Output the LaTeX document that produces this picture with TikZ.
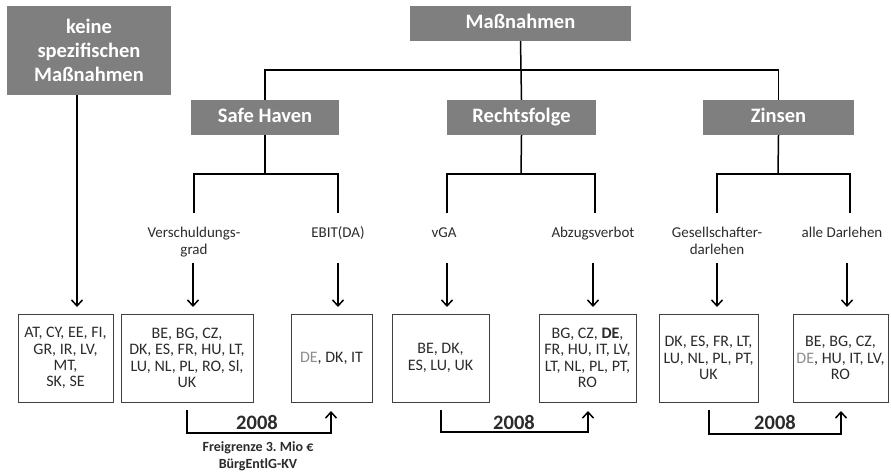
\documentclass[tikz,border=0pt]{standalone}
\usepackage{fontspec}
\setmainfont{Carlito}
\usetikzlibrary{arrows.meta}
\definecolor{hdr}{HTML}{7F7F7F}
\definecolor{txt}{HTML}{2B2B2B}
\definecolor{bord}{HTML}{404040}
\definecolor{lightde}{HTML}{8C8C8C}
\begin{document}
\begin{tikzpicture}[x=1pt,y=-1pt,
  hbox/.style={fill=hdr, text=white, font=\fontsize{20.5}{24}\selectfont\bfseries, inner sep=0pt, align=center},
  hone/.style={hbox, text height=14pt, text depth=4pt},
  cbox/.style={draw=bord, line width=0.8pt, text=txt, font=\fontsize{16}{16.3}\selectfont, inner sep=0pt, align=center, minimum height=88pt},
  lbl/.style={text=txt, font=\fontsize{15}{17}\selectfont, inner sep=0pt, align=center},
  conn/.style={line width=1.5pt, black},
  arr/.style={line width=1.5pt, black, -{Straight Barb[length=6pt,width=11pt,line width=1.5pt]}},
  yr/.style={text=txt, font=\fontsize{20.5}{24}\selectfont\bfseries, inner sep=0pt},
  note/.style={text=txt, font=\fontsize{14}{17}\selectfont\bfseries, inner sep=0pt, align=center}]
\useasboundingbox (0,0) rectangle (891,472);

% header boxes
\node[hbox, minimum width=164pt, minimum height=89pt] (kein) at (89,50.5) {keine\\spezifischen\\Maßnahmen};
\node[hone, minimum width=221pt, minimum height=35pt] (mass) at (520.5,23.5) {Maßnahmen};
\node[hone, minimum width=148pt, minimum height=35pt] (sh) at (265,117.5) {Safe Haven};
\node[hone, minimum width=149pt, minimum height=35pt] (rf) at (521.5,117.5) {Rechtsfolge};
\node[hone, minimum width=151pt, minimum height=35pt] (zi) at (778.5,117.5) {Zinsen};

% top tree
\coordinate (j0) at (521,70);
\draw[conn] (mass.south) -- (j0);
\draw[conn] (sh.north) |- (j0) -| (zi.north);
\draw[conn] (j0) -- (rf.north);

% sub-branch junctions
\coordinate (jsh) at (265,174);
\coordinate (jrf) at (521,174);
\coordinate (jzi) at (778,174);
\coordinate (e1) at (194,213);
\coordinate (e2) at (338,213);
\coordinate (e3) at (447,213);
\coordinate (e4) at (595,213);
\coordinate (e5) at (717,213);
\coordinate (e6) at (850,213);
\draw[conn] (sh.south) -- (jsh);
\draw[conn] (e1) |- (jsh) -| (e2);
\draw[conn] (rf.south) -- (jrf);
\draw[conn] (e3) |- (jrf) -| (e4);
\draw[conn] (zi.south) -- (jzi);
\draw[conn] (e5) |- (jzi) -| (e6);

% labels
\node[lbl, anchor=base] (l1) at (194,254) {Verschuldungs-\\grad};
\node[lbl, anchor=base] (l2) at (338,237) {EBIT(DA)};
\node[lbl, anchor=base] (l3) at (444,237) {vGA};
\node[lbl, anchor=base] (l4) at (593,237) {Abzugsverbot};
\node[lbl, anchor=base] (l5) at (717,254) {Gesellschafter-\\darlehen};
\node[lbl, anchor=base] (l6) at (842,237) {alle Darlehen};

% country boxes
\node[cbox, minimum width=95pt] (b1) at (65.5,358) {AT, CY, EE, FI,\\GR, IR, LV,\\MT,\\SK, SE};
\node[cbox, minimum width=132pt] (b2) at (187,358) {BE, BG, CZ,\\DK, ES, FR, HU, LT,\\LU, NL, PL, RO, Sl,\\UK};
\node[cbox, minimum width=81pt] (b3) at (331.5,358) {\textcolor{lightde}{DE}, DK, IT};
\node[cbox, minimum width=97pt] (b4) at (440.5,358) {BE, DK,\\ES, LU, UK};
\node[cbox, minimum width=97pt] (b5) at (587.5,358) {BG, CZ, \textbf{DE},\\FR, HU, IT, LV,\\LT, NL, PL, PT,\\RO};
\node[cbox, minimum width=99pt] (b6) at (708.5,358) {DK, ES, FR, LT,\\LU, NL, PL, PT,\\UK};
\node[cbox, minimum width=95pt] (b7) at (840.5,358) {BE, BG, CZ,\\\textcolor{lightde}{DE}, HU, IT, LV,\\RO};

% arrows into boxes
\coordinate (k1) at (77,95);
\coordinate (k2) at (77,307);
\draw[arr] (k1) -- (k2);
\coordinate (s2) at (193,263); \coordinate (t2) at (193,307);
\coordinate (s3) at (338,263); \coordinate (t3) at (338,307);
\coordinate (s4) at (447,263); \coordinate (t4) at (447,307);
\coordinate (s5) at (593,263); \coordinate (t5) at (593,307);
\coordinate (s6) at (717,263); \coordinate (t6) at (717,307);
\coordinate (s7) at (847,263); \coordinate (t7) at (847,307);
\draw[arr] (s2) -- (t2);
\draw[arr] (s3) -- (t3);
\draw[arr] (s4) -- (t4);
\draw[arr] (s5) -- (t5);
\draw[arr] (s6) -- (t6);
\draw[arr] (s7) -- (t7);

% 2008 connectors
\coordinate (u1) at (187,410); \coordinate (v1) at (331,411);
\coordinate (u2) at (441,410); \coordinate (v2) at (588,411);
\coordinate (u3) at (709,410); \coordinate (v3) at (841,411);
\draw[arr] (u1) -- (187,433) -| (v1);
\draw[arr] (u2) -- (441,432) -| (v2);
\draw[arr] (u3) -- (709,434) -| (v3);
\node[yr] (y1) at (257,422) {2008};
\node[yr] (y2) at (514,422) {2008};
\node[yr] (y3) at (775,422) {2008};
\node[note] (fg) at (258,456.5) {Freigrenze 3.\ Mio €\\BürgEntlG-KV};
\end{tikzpicture}
\end{document}
